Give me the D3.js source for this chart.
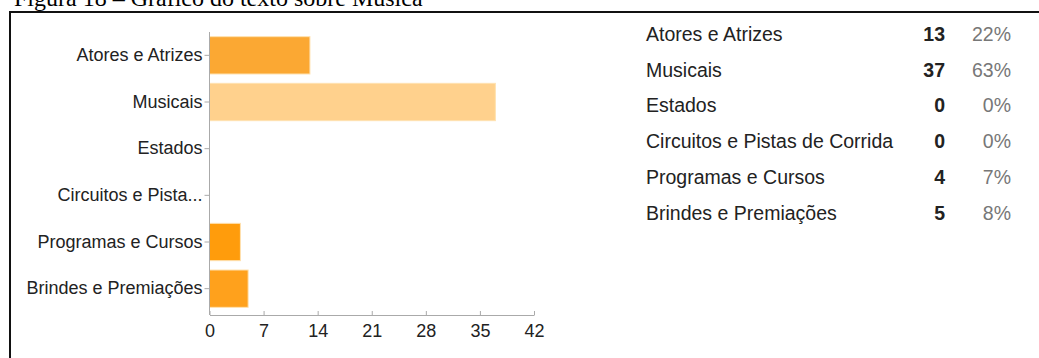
<!DOCTYPE html>
<html>
<head>
<meta charset="utf-8">
<script src="https://cdn.jsdelivr.net/npm/d3@7"></script>
<style>
  html, body { margin: 0; padding: 0; background: #fff; }
  svg { display: block; }
</style>
</head>
<body>
<svg id="chart" width="1039" height="358"></svg>
<script>
const caption = "Figura 18 – Gráfico do texto sobre Música";
const categories = ["Atores e Atrizes", "Musicais", "Estados", "Circuitos e Pistas de Corrida", "Programas e Cursos", "Brindes e Premiações"];
const axisLabels = ["Atores e Atrizes", "Musicais", "Estados", "Circuitos e Pista...", "Programas e Cursos", "Brindes e Premiações"];
const counts = [13, 37, 0, 0, 4, 5];
const percents = ["22%", "63%", "0%", "0%", "7%", "8%"];
const barColors = ["#FBA833", "#FFD18D", "#FDA42A", "#FDA42A", "#FF9C0C", "#FFA11C"];
const xTicks = [0, 7, 14, 21, 28, 35, 42];

const svg = d3.select("#chart");

// caption (cropped at top)
svg.append("text")
  .attr("x", 14).attr("y", 6)
  .attr("font-family", "Liberation Serif, Times New Roman, serif")
  .attr("font-size", 24)
  .attr("fill", "#000")
  .text(caption);

// frame (cropped at right and bottom)
svg.append("path")
  .attr("d", "M10,362 L10,12 L1045,12")
  .attr("fill", "none")
  .attr("stroke", "#111")
  .attr("stroke-width", 2);

const x = d3.scaleLinear().domain([0, 42]).range([209.5, 534]);
const y = d3.scaleBand().domain(d3.range(categories.length)).range([32, 312]).paddingInner(0.2).paddingOuter(0.1);

const g = svg.append("g");

// bars
g.selectAll("rect.bar").data(counts).join("rect")
  .attr("class", "bar")
  .attr("x", x(0))
  .attr("y", (d, i) => y(i))
  .attr("width", d => x(d) - x(0))
  .attr("height", y.bandwidth())
  .attr("fill", (d, i) => barColors[i])
  .attr("stroke", "#FFE2B0")
  .attr("stroke-width", d => d > 0 ? 1 : 0);

// x axis
const xAxis = g.append("g")
  .attr("transform", `translate(0,${315})`)
  .call(d3.axisBottom(x).tickValues(xTicks).tickSize(4).tickSizeOuter(0).tickPadding(5));
xAxis.select(".domain").attr("stroke", "#aaa");
xAxis.selectAll(".tick line").attr("stroke", "#aaa").attr("y1", -4).attr("y2", 0);
xAxis.selectAll("text")
  .attr("font-family", "Liberation Sans, Arial, sans-serif")
  .attr("font-size", 18)
  .attr("fill", "#222");

// y axis
const yAxis = g.append("g")
  .attr("transform", `translate(${x(0)},0)`)
  .call(d3.axisLeft(y).tickFormat(i => axisLabels[i]).tickSize(5).tickSizeOuter(0).tickPadding(2));
yAxis.select(".domain").attr("stroke", "#aaa").attr("d", `M0,${y.range()[0]}V315`);
yAxis.selectAll(".tick line").attr("stroke", "#aaa");
yAxis.selectAll("text")
  .attr("font-family", "Liberation Sans, Arial, sans-serif")
  .attr("font-size", 18)
  .attr("fill", "#222");

// summary table
const rowY = d3.scalePoint().domain(d3.range(categories.length)).range([34, 213]);
const table = svg.append("g")
  .attr("font-family", "Liberation Sans, Arial, sans-serif")
  .attr("font-size", 19.5);
const rows = table.selectAll("g.row").data(categories).join("g")
  .attr("class", "row")
  .attr("transform", (d, i) => `translate(0,${rowY(i)})`);
rows.append("text")
  .attr("x", 646).attr("dy", "0.35em")
  .attr("fill", "#222")
  .text(d => d);
rows.append("text")
  .attr("x", 945).attr("dy", "0.35em")
  .attr("text-anchor", "end")
  .attr("font-weight", "bold")
  .attr("fill", "#222")
  .text((d, i) => counts[i]);
rows.append("text")
  .attr("x", 1011).attr("dy", "0.35em")
  .attr("text-anchor", "end")
  .attr("fill", "#777")
  .text((d, i) => percents[i]);
</script>
</body>
</html>
